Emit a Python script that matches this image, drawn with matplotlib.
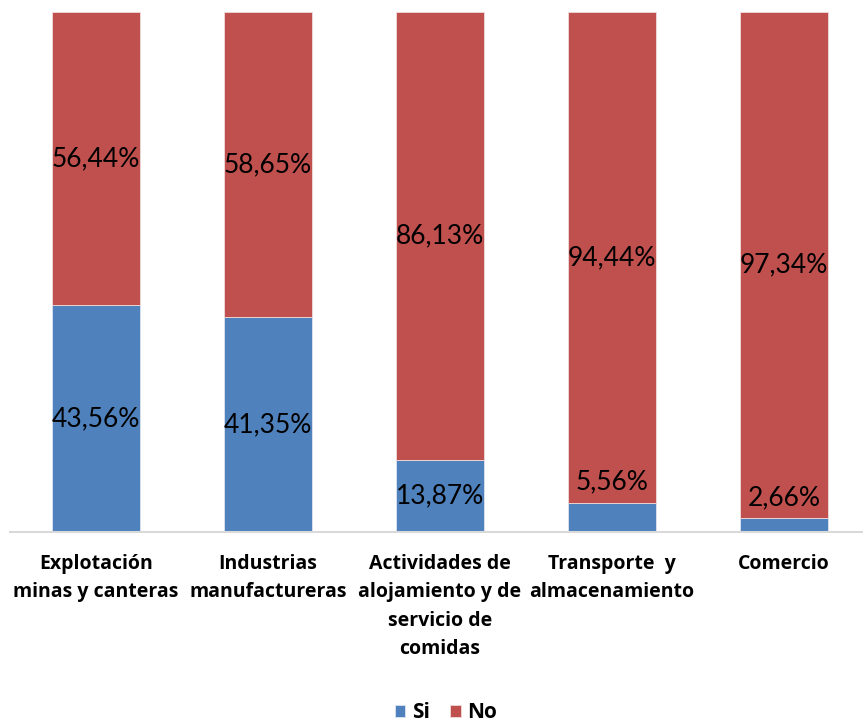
import matplotlib
matplotlib.use('Agg')
import matplotlib.pyplot as plt
import numpy as np

plt.rcParams['font.family'] = ['Lato', 'DejaVu Sans']

# data
categories = ['Explotación\nminas y canteras', 'Industrias\nmanufactureras',
              'Actividades de\nalojamiento y de\nservicio de\ncomidas',
              'Transporte  y\nalmacenamiento', 'Comercio']
si = [43.56, 41.35, 13.87, 5.56, 2.66]
no = [56.44, 58.65, 86.13, 94.44, 97.34]

blue = '#4F81BD'
red = '#C0504D'

fig = plt.figure(figsize=(8.63, 7.24), dpi=100)
ax = fig.add_axes([10 / 863, 1 - 532 / 724, 1 - 10 / 863, 520 / 724])

x = np.arange(len(categories))
w = 0.51
ax.bar(x, si, w, color=blue, edgecolor='#DCE3EE', linewidth=0.6, label='Si')
ax.bar(x, no, w, bottom=si, color=red, edgecolor='#EFDCDC', linewidth=0.6, label='No')

def fmt(v):
    return f'{v:.2f}%'.replace('.', ',')

for i in x:
    # small blue segments get their label just above the bar
    ys = si[i] / 2 if si[i] >= 10 else si[i] + 4
    ax.text(i, ys, fmt(si[i]), ha='center', va='center', fontsize=19)
    ax.text(i, si[i] + no[i] / 2, fmt(no[i]), ha='center', va='center', fontsize=19)

ax.set_xlim(-0.5, 4.46)
ax.set_ylim(0, 100)
ax.set_yticks([])
ax.set_xticks(x)
ax.set_xticklabels(categories, family='Open Sans', fontsize=14, fontweight='bold',
                   va='top', linespacing=1.55)
ax.tick_params(axis='x', length=0, pad=16)
for s in ['top', 'right', 'left']:
    ax.spines[s].set_visible(False)
ax.spines['bottom'].set_color('#D9D9D9')
ax.spines['bottom'].set_linewidth(1.5)

leg = fig.legend(loc='center', bbox_to_anchor=(446 / 863, 1 - 713 / 724), ncol=2, frameon=False,
                 prop={'family': 'Open Sans', 'weight': 'bold', 'size': 15},
                 handlelength=0.5, handleheight=0.5, handletextpad=0.3, columnspacing=1.0)

fig.savefig('out.png', dpi=100)
